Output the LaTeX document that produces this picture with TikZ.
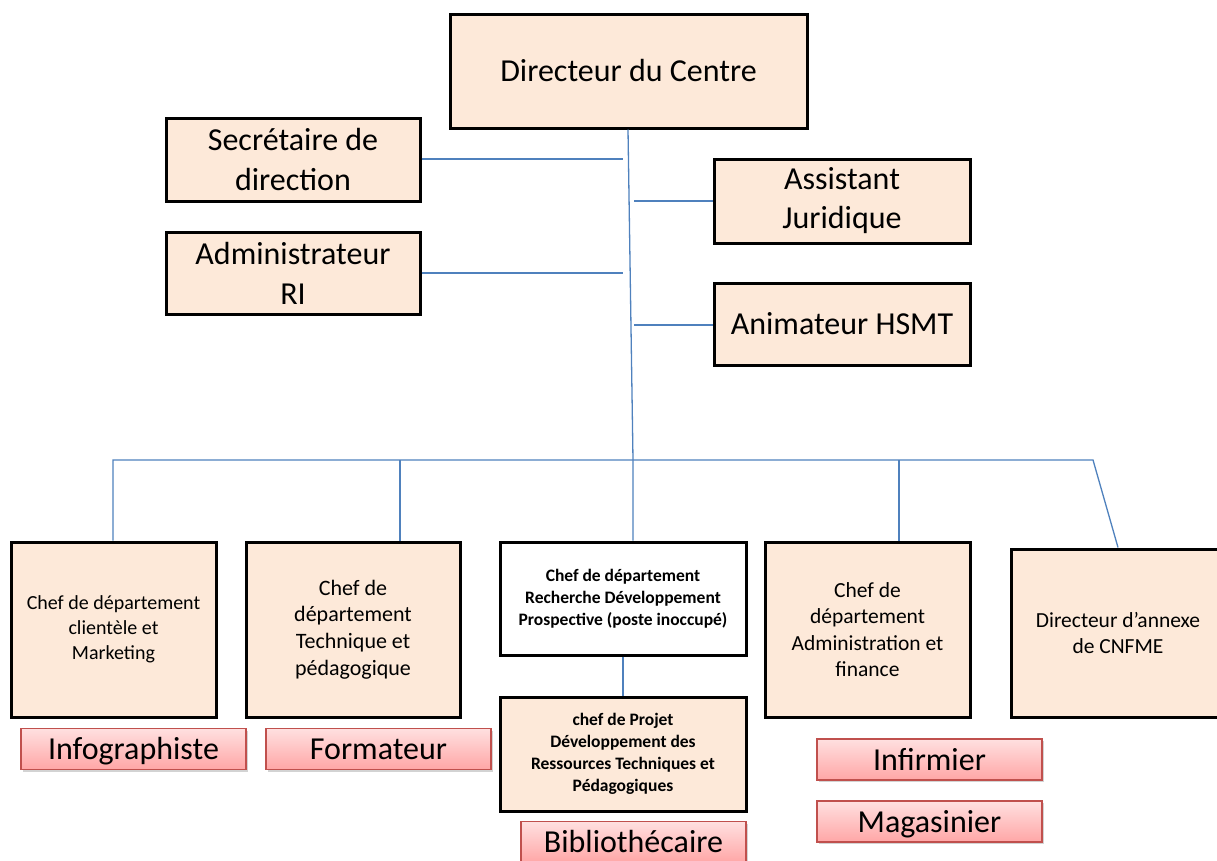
\documentclass[tikz,border=0pt]{standalone}
\usepackage{fontspec}
\setmainfont{Carlito}
\usetikzlibrary{shadows}
\definecolor{peach}{HTML}{FDE9D9}
\definecolor{linkblue}{HTML}{4F81BD}
\definecolor{pinktop}{HTML}{FFE0E0}
\definecolor{pinkbot}{HTML}{FFA6A6}
\definecolor{pinkedge}{HTML}{C0504D}
\tikzset{
  orgbox/.style={draw=black, line width=3pt, fill=peach, inner sep=2pt,
    align=center, text=black},
  emptybox/.style={orgbox, fill=white},
  rolebox/.style={draw=pinkedge, line width=1.2pt, top color=pinktop,
    bottom color=pinkbot, inner sep=0pt, minimum width=225pt,
    minimum height=41pt, text height=26pt, text depth=5pt,
    font=\fontsize{32}{34}\selectfont,
    drop shadow={shadow xshift=1.5pt, shadow yshift=-2pt, opacity=0.35}},
  link/.style={draw=linkblue, line width=1.3pt},
}
\begin{document}
\begin{tikzpicture}[x=1pt, y=-1pt]
\useasboundingbox (0,0) rectangle (1217,860);

% top level
\node[orgbox, minimum width=357pt, minimum height=114pt,
  font=\fontsize{32}{38}\selectfont] (dir) at (628.5,71) {Directeur du Centre};

% staff attached to the director
\node[orgbox, minimum width=254pt, minimum height=83pt,
  font=\fontsize{32}{40}\selectfont] (sec) at (293,159.5) {Secrétaire de\\direction};
\node[orgbox, minimum width=254pt, minimum height=82pt,
  font=\fontsize{32}{40}\selectfont] (adm) at (293,273) {Administrateur\\RI};
\node[orgbox, minimum width=256pt, minimum height=84pt,
  font=\fontsize{32}{39}\selectfont] (asj) at (842,201) {Assistant\\Juridique};
\node[orgbox, minimum width=256pt, minimum height=82pt,
  font=\fontsize{32}{38}\selectfont] (hsmt) at (842,324) {Animateur HSMT};

% departments
\node[orgbox, minimum width=205pt, minimum height=175pt,
  font=\fontsize{20}{25}\selectfont] (cli) at (113.5,629.5)
  {Chef de département\\clientèle et\\Marketing};
\node[orgbox, minimum width=214pt, minimum height=175pt,
  font=\fontsize{22}{26.7}\selectfont] (tec) at (353,629.5)
  {Chef de\\département\\Technique et\\pédagogique};
\node[emptybox, minimum width=246pt, minimum height=113pt,
  font=\bfseries\fontsize{17.5}{22}\selectfont] (rdp) at (623,598.5)
  {Chef de département\\Recherche Développement\\Prospective (poste inoccupé)};
\node[orgbox, minimum width=246pt, minimum height=114pt,
  font=\bfseries\fontsize{17.5}{22}\selectfont] (prj) at (623,754)
  {chef de Projet\\Développement des\\Ressources Techniques et\\Pédagogiques};
\node[orgbox, minimum width=205pt, minimum height=175pt,
  font=\fontsize{21.5}{26.5}\selectfont] (adf) at (867.5,629.5)
  {Chef de\\département\\Administration et\\finance};
\node[orgbox, minimum width=214pt, minimum height=168pt,
  font=\fontsize{21.5}{26.5}\selectfont] (anx) at (1118,633)
  {Directeur d’annexe\\de CNFME};

% positions under the departments
\node[rolebox] (info) at (133.5,749) {Infographiste};
\node[rolebox] (form) at (378.5,749) {Formateur};
\node[rolebox] (inf) at (929.5,759.5) {Infirmier};
\node[rolebox] (mag) at (929.5,821.5) {Magasinier};
\node[rolebox] (bib) at (633.5,842) {Bibliothécaire};

% connector points
\coordinate (spinetop) at (628,128);
\coordinate (bus) at (633,460);
\coordinate (secend) at (623,159);
\coordinate (admend) at (623,273);
\coordinate (asjstart) at (634,201);
\coordinate (hsmtstart) at (634,325);
\coordinate (busleft) at (113,460);
\coordinate (busright) at (1093,460);

% connectors
\draw[link] (dir.south -| spinetop) -- (bus) -- (rdp.north -| bus);
\draw[link] (sec.east |- secend) -- (secend);
\draw[link] (adm.east |- admend) -- (admend);
\draw[link] (asjstart) -- (asj.west |- asjstart);
\draw[link] (hsmtstart) -- (hsmt.west |- hsmtstart);
\draw[link] (cli.north -| busleft) -- (busleft) -- (busright) -- (anx.north);
\draw[link] (tec.north -| 400,0) -- (400,460);
\draw[link] (adf.north -| 899,0) -- (899,460);
\draw[link] (rdp.south) -- (prj.north);
\end{tikzpicture}
\end{document}
